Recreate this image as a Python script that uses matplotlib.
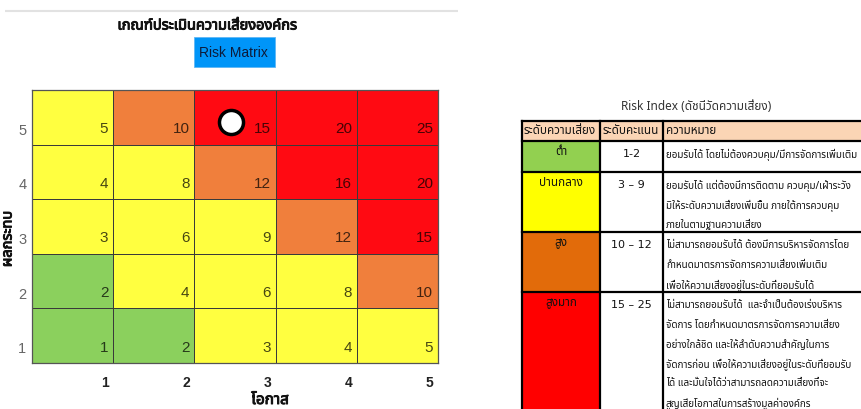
import matplotlib
matplotlib.use('Agg')
import matplotlib.pyplot as plt
import matplotlib.patheffects as pe
from matplotlib import font_manager
from matplotlib.patches import Rectangle
from matplotlib.colors import ListedColormap, BoundaryNorm
from matplotlib.ft2font import FT2Font
import numpy as np

# ---------------- data ----------------
likelihood = [1, 2, 3, 4, 5]          # x: โอกาส
impact = [1, 2, 3, 4, 5]              # y: ผลกระทบ
scores = [                            # rows = impact 1..5, cols = likelihood 1..5
    [1, 2, 3, 4, 5],
    [2, 4, 6, 8, 10],
    [3, 6, 9, 12, 15],
    [4, 8, 12, 16, 20],
    [5, 10, 15, 20, 25],
]
level_bounds = [0.5, 2.5, 9.5, 12.5, 25.5]
matrix_colors = ['#8bd05d', '#ffff40', '#f07f3c', '#ff0a12']
marker_point = (2.45, 4.41)

title_text = 'เกณฑ์ประเมินความเสี่ยงองค์กร'
button_text = 'Risk Matrix'
x_label = 'โอกาส'
y_label = 'ผลกระทบ'
index_title = 'Risk Index (ดัชนีวัดความเสี่ยง)'

table_header = ['ระดับความเสี่ยง', 'ระดับคะแนน', 'ความหมาย']
table_levels = ['ต่ำ', 'ปานกลาง', 'สูง', 'สูงมาก']
table_scores = ['1-2', '3 – 9', '10 – 12', '15 – 25']
table_meanings = [
    ['ยอมรับได้ โดยไม่ต้องควบคุม/มีการจัดการเพิ่มเติม'],
    ['ยอมรับได้ แต่ต้องมีการติดตาม ควบคุม/เฝ้าระวัง',
     'มิให้ระดับความเสี่ยงเพิ่มขึ้น ภายใต้การควบคุม',
     'ภายในตามฐานความเสี่ยง'],
    ['ไม่สามารถยอมรับได้ ต้องมีการบริหารจัดการโดย',
     'กำหนดมาตรการจัดการความเสี่ยงเพิ่มเติม',
     'เพื่อให้ความเสี่ยงอยู่ในระดับที่ยอมรับได้'],
    ['ไม่สามารถยอมรับได้  และจำเป็นต้องเร่งบริหาร',
     'จัดการ โดยกำหนดมาตรการจัดการความเสี่ยง',
     'อย่างใกล้ชิด และให้ลำดับความสำคัญในการ',
     'จัดการก่อน เพื่อให้ความเสี่ยงอยู่ในระดับที่ยอมรับ',
     'ได้ และมั่นใจได้ว่าสามารถลดความเสี่ยงที่จะ',
     'สูญเสียโอกาสในการสร้างมูลค่าองค์กร'],
]
table_level_colors = ['#92d050', '#ffff00', '#e26b0a', '#ff0000']
table_header_color = '#fbd5b5'


# ---------------- fonts ----------------
def find_thai_family():
    prefs = ['Tahoma', 'Noto Sans Thai', 'Noto Sans Thai UI', 'Loma', 'Garuda',
             'Sarabun', 'Umpush', 'Waree', 'Kinnari', 'Norasi', 'Laksaman']
    found = set()
    for f in font_manager.fontManager.ttflist:
        if f.name in found:
            continue
        try:
            cm = FT2Font(f.fname).get_charmap()
            if 0x0E01 in cm and 0x0E40 in cm:
                found.add(f.name)
        except Exception:
            pass
    for p in prefs:
        if p in found:
            return p
    return sorted(found)[0] if found else None


thai = find_thai_family()
fam = ([thai] if thai else []) + ['DejaVu Sans']
names = {f.name for f in font_manager.fontManager.ttflist}
narrow = ['Liberation Sans Narrow', 'Liberation Sans', 'DejaVu Sans'] \
    if 'Liberation Sans Narrow' in names else ['Liberation Sans', 'DejaVu Sans']
boldfx = [pe.withStroke(linewidth=0.7, foreground='#111111')]

W, H = 861, 410
fig = plt.figure(figsize=(W / 100, H / 100), dpi=100)
fig.patch.set_facecolor('white')
renderer = fig.canvas.get_renderer()

# overlay axes in pixel coordinates
ov = fig.add_axes([0, 0, 1, 1])
ov.set_xlim(0, W)
ov.set_ylim(H, 0)
ov.axis('off')

# top rule
ov.plot([5, 458], [12, 12], color='#e2e2e2', lw=1.5, solid_capstyle='butt')
# title
ov.text(207, 27, title_text, ha='center', va='center', fontsize=10.5,
        fontweight='bold', family=fam, color='#111111', path_effects=boldfx)
# blue button
ov.add_patch(Rectangle((194, 38), 81, 30, facecolor='#0095f8', edgecolor='#5fb6f5', lw=0.6))
ov.text(199, 53, button_text, ha='left', va='center', fontsize=10,
        family=['Liberation Sans', 'DejaVu Sans'], color='#0d1b3a')

# axis titles
ov.text(8, 240, y_label, rotation=90, ha='center', va='center', fontsize=10.5,
        fontweight='bold', family=fam, color='#111111', path_effects=boldfx)
ov.text(270, 409, x_label, ha='center', va='bottom', fontsize=11,
        fontweight='bold', family=fam, color='#111111', path_effects=boldfx)

# ---------------- risk matrix ----------------
ax = fig.add_axes([32 / W, (H - 364) / H, 406 / W, 273 / H])
cmap = ListedColormap(matrix_colors)
norm = BoundaryNorm(level_bounds, cmap.N)
xe = np.arange(len(likelihood) + 1)
ye = np.arange(len(impact) + 1)
ax.pcolormesh(xe, ye, np.array(scores), cmap=cmap, norm=norm,
              edgecolors='#3a3a3a', linewidth=0.6)
for ri, r in enumerate(impact):
    for ci, c in enumerate(likelihood):
        ax.text(c - 0.06, r - 0.7, str(scores[ri][ci]), ha='right', va='center',
                fontsize=11, family=narrow, color='black', alpha=0.72)
ax.set_xlim(0, len(likelihood))
ax.set_ylim(0, len(impact))
ax.set_xticks([c - 0.1 for c in likelihood])
ax.set_xticklabels([str(c) for c in likelihood], fontsize=10, fontweight='bold',
                   color='#222222', family=['Liberation Sans', 'DejaVu Sans'])
ax.set_yticks([r - 0.7 for r in impact])
ax.set_yticklabels([str(r) for r in impact], fontsize=10.5, color='#666666', family=narrow)
ax.tick_params(length=0)
ax.tick_params(axis='x', pad=9)
ax.tick_params(axis='y', pad=4)
for s in ax.spines.values():
    s.set_color('#555555')
    s.set_linewidth(0.9)
ax.scatter([marker_point[0]], [marker_point[1]], s=300, c='white',
           edgecolors='black', linewidths=2.5, zorder=6, clip_on=False)

# ---------------- risk index table ----------------
ov.text(696, 106, index_title, ha='center', va='center', fontsize=8.5,
        family=fam, color='#333333')
col_edges = [522, 600, 663, 880]
row_edges = [122, 142, 173, 233, 293, 430]
for j in range(3):
    ov.add_patch(Rectangle((col_edges[j], row_edges[0]), col_edges[j + 1] - col_edges[j],
                           row_edges[1] - row_edges[0], facecolor=table_header_color,
                           edgecolor='none'))
for i, col in enumerate(table_level_colors):
    ov.add_patch(Rectangle((col_edges[0], row_edges[i + 1]), col_edges[1] - col_edges[0],
                           row_edges[i + 2] - row_edges[i + 1], facecolor=col,
                           edgecolor='none'))
for x in col_edges[:3]:
    ov.plot([x, x], [row_edges[0], row_edges[-1]], color='black', lw=1.6,
            solid_capstyle='projecting')
for y in row_edges[:5]:
    ov.plot([col_edges[0], col_edges[-1]], [y, y], color='black', lw=1.6,
            solid_capstyle='projecting')

# fit table font size so the first meaning line spans ~193 px like the reference
probe = ov.text(0, 0, table_meanings[0][0], fontsize=10, family=fam)
pw = probe.get_window_extent(renderer).width
probe.remove()
tfs = min(8.5, 10 * 192 / pw) if pw > 0 else 8
# and header width ~ 72 px for the first header cell
probe = ov.text(0, 0, table_header[0], fontsize=10, family=fam)
hw = probe.get_window_extent(renderer).width
probe.remove()
hfs = min(8.5, 10 * 72 / hw) if hw > 0 else 8

hdr_x = [524, 603, 666]
for x, t in zip(hdr_x, table_header):
    ov.text(x, 132, t, ha='left', va='center', fontsize=hfs, family=fam, color='#111111')

line_gap = 19.5
for i in range(4):
    top = row_edges[i + 1]
    ov.text((col_edges[0] + col_edges[1]) / 2, top + 11, table_levels[i], ha='center',
            va='center', fontsize=hfs, family=fam, color='#111111')
    ov.text((col_edges[1] + col_edges[2]) / 2, top + 12, table_scores[i], ha='center',
            va='center', fontsize=min(hfs, 8), family=['DejaVu Sans'], color='#111111')
    for k, line in enumerate(table_meanings[i]):
        ov.text(666, top + 13 + k * line_gap, line, ha='left', va='center',
                fontsize=tfs, family=fam, color='#111111')

fig.savefig('out.png', dpi=100)
